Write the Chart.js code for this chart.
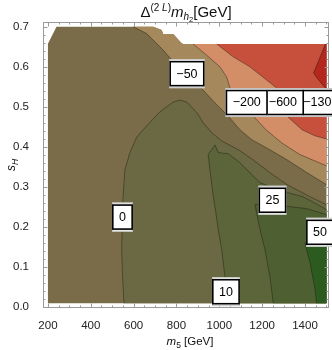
<!DOCTYPE html>
<html>
<head>
<meta charset="utf-8">
<script src="https://cdn.jsdelivr.net/npm/chart.js@4.4.0/dist/chart.umd.min.js"></script>
<style>
  html, body { margin: 0; padding: 0; background: #fff; }
</style>
</head>
<body>
<canvas id="chart" width="332" height="350"></canvas>
<script>
// axis ticks
const xTicks = [200, 400, 600, 800, 1000, 1200, 1400];
const yTicks = [0.0, 0.1, 0.2, 0.3, 0.4, 0.5, 0.6, 0.7];
const xMinorStep = 50;
const yMinorStep = 0.02;

// outline of the scanned region (m5, sH), outside is blank
const domainBottom = [[200, 0.01], [1500, 0.01]];
const domainTop = [[1500, 0.657], [832, 0.657], [824, 0.659], [785, 0.682], [738, 0.682],
  [731, 0.692], [692, 0.70], [240, 0.70], [200, 0.658]];

// contour lines
const contour50 = [[1454, 0.01], [1447, 0.045], [1423, 0.112], [1400, 0.159], [1415, 0.17], [1500, 0.18]];
const contour25 = [[1252, 0.01], [1236, 0.077], [1213, 0.144], [1190, 0.194], [1174, 0.236], [1166, 0.256],
  [1236, 0.261], [1314, 0.252], [1408, 0.246], [1500, 0.231]];
const contour10 = [[1040, 0.01], [1026, 0.077], [1011, 0.144], [995, 0.194], [984, 0.236], [972, 0.276],
  [964, 0.311], [956, 0.343], [948, 0.381], [980, 0.405], [995, 0.386], [1042, 0.383], [1096, 0.361],
  [1143, 0.336], [1190, 0.311], [1283, 0.291], [1390, 0.276], [1500, 0.244]];
const contour0 = [[555, 0.01], [549, 0.070], [544, 0.144], [550, 0.269], [559, 0.343], [583, 0.386],
  [615, 0.425], [653, 0.448], [723, 0.488], [784, 0.512], [816, 0.517], [849, 0.512], [896, 0.485],
  [928, 0.458], [966, 0.435], [1012, 0.415], [1096, 0.391], [1157, 0.368], [1236, 0.336], [1316, 0.306],
  [1423, 0.276], [1500, 0.256]];
const contourM50 = [[598, 0.70], [661, 0.683], [738, 0.642], [770, 0.622], [924, 0.542], [980, 0.510],
  [1040, 0.478], [1096, 0.443], [1152, 0.418], [1236, 0.393], [1316, 0.368], [1409, 0.336], [1500, 0.306]];
const contourM200 = [[878, 0.657], [941, 0.629], [1003, 0.600], [1034, 0.575], [1050, 0.547], [1162, 0.475],
  [1218, 0.443], [1292, 0.410], [1376, 0.381], [1500, 0.353]];
const contourM600 = [[988, 0.657], [1065, 0.625], [1143, 0.600], [1221, 0.567], [1268, 0.547], [1320, 0.475],
  [1386, 0.443], [1446, 0.428], [1500, 0.420]];
const contourM1300 = [[1495, 0.657], [1465, 0.617], [1440, 0.585], [1452, 0.575], [1490, 0.55], [1500, 0.545]];

// contour labels
const labelValues = [-1300, -600, -200, -50, 0, 10, 25, 50];
const labelX = [1474, 1297, 1128, 849, 548, 1031, 1248, 1470];
const labelY = [0.511, 0.511, 0.511, 0.583, 0.225, 0.0386, 0.267, 0.187];

const FONT = '"Liberation Sans", Arial, sans-serif';
Chart.defaults.font.family = FONT;

const toPts = arr => arr.map(p => ({x: p[0], y: p[1]}));
const closeBottom = c => c.concat([[1500, 0.01]]);
const closeTop = c => c.concat(domainTop.filter(p => p[0] > c[0][0]));

// painted from bottom to top
const bands = [
  {poly: domainBottom.concat(domainTop), color: '#7a6c48'},
  {poly: closeBottom(contour0), color: '#6a6943'},
  {poly: closeBottom(contour10), color: '#5c6439'},
  {poly: closeBottom(contour25), color: '#4e5f32'},
  {poly: closeBottom(contour50), color: '#2c5b1f'},
  {poly: closeTop(contourM50), color: '#a5895c'},
  {poly: closeTop(contourM200), color: '#d38e67'},
  {poly: closeTop(contourM600), color: '#c7503d'},
  {poly: closeTop(contourM1300), color: '#b3271e'}
];
const lines = [contour50, contour25, contour10, contour0, contourM50, contourM200, contourM600, contourM1300];

const datasets = [];
bands.forEach(b => datasets.push({
  data: toPts(b.poly), showLine: true, fill: 'shape', backgroundColor: b.color,
  borderWidth: 0, pointRadius: 0, tension: 0
}));
lines.forEach(l => datasets.push({
  data: toPts(l), showLine: true, fill: false, borderColor: 'rgba(25,25,15,0.55)',
  borderWidth: 0.8, pointRadius: 0, tension: 0
}));
datasets.forEach((d, i) => { d.order = datasets.length - i; });

function drawRuns(ctx, parts, x, y) {
  let w = 0;
  parts.forEach(p => { ctx.font = p[1]; w += ctx.measureText(p[0]).width; });
  let cx = x - w / 2;
  parts.forEach(p => {
    ctx.font = p[1];
    ctx.fillText(p[0], cx, y + p[2]);
    cx += ctx.measureText(p[0]).width;
  });
}

const decorations = {
  id: 'decorations',
  afterDraw(chart) {
    const ctx = chart.ctx;
    const xs = chart.scales.x, ys = chart.scales.y;
    const {left, right, top, bottom} = chart.chartArea;
    ctx.save();

    // frame with inward ticks
    ctx.strokeStyle = '#9a9a9a';
    ctx.lineWidth = 1;
    ctx.strokeRect(left + 0.5, top + 0.5, right - left - 1, bottom - top - 1);
    ctx.beginPath();
    for (let v = Math.ceil(xs.min / xMinorStep) * xMinorStep; v <= xs.max; v += xMinorStep) {
      const px = Math.round(xs.getPixelForValue(v)) + 0.5;
      const len = xTicks.includes(v) ? 4.5 : 2.5;
      ctx.moveTo(px, bottom); ctx.lineTo(px, bottom - len);
      ctx.moveTo(px, top); ctx.lineTo(px, top + len);
    }
    for (let k = Math.ceil(ys.min / yMinorStep); k * yMinorStep <= ys.max + 1e-9; k++) {
      const py = Math.round(ys.getPixelForValue(k * yMinorStep)) + 0.5;
      const len = k % 5 === 0 ? 4.5 : 2.5;
      ctx.moveTo(left, py); ctx.lineTo(left + len, py);
      ctx.moveTo(right, py); ctx.lineTo(right - len, py);
    }
    ctx.stroke();

    // contour labels
    ctx.textAlign = 'center';
    ctx.textBaseline = 'middle';
    labelValues.forEach((val, i) => {
      const txt = val < 0 ? '\u2212' + Math.abs(val) : String(val);
      ctx.font = '12.5px ' + FONT;
      const w = ctx.measureText(txt).width + 14, h = 29;
      const px = xs.getPixelForValue(labelX[i]), py = ys.getPixelForValue(labelY[i]);
      const x0 = px - w / 2, y0 = py - h / 2;
      ctx.fillStyle = '#fff';
      ctx.fillRect(x0, y0, w, h);
      ctx.strokeStyle = '#c4c4c4';
      ctx.lineWidth = 1;
      ctx.strokeRect(x0 + 0.5, y0 + 0.5, w - 1, h - 1);
      ctx.strokeStyle = '#000';
      ctx.lineWidth = 1.6;
      ctx.strokeRect(x0 + 0.8, y0 + 2.5, w - 1.6, h - 5);
      ctx.fillStyle = '#000';
      ctx.fillText(txt, px, py + 0.5);
    });

    // title and axis titles
    ctx.textAlign = 'left';
    ctx.textBaseline = 'alphabetic';
    ctx.fillStyle = '#111';
    drawRuns(ctx, [
      ['\u0394', '15px ' + FONT, 0],
      ['(2 ', '10px ' + FONT, -6],
      ['L', 'italic 10px ' + FONT, -6],
      [')', '10px ' + FONT, -6],
      ['m', 'italic 15px ' + FONT, 0],
      ['h', 'italic 10px ' + FONT, 3],
      ['2', '7.5px ' + FONT, 5],
      ['[GeV]', '15px ' + FONT, 0]
    ], (left + right) / 2, 17);
    drawRuns(ctx, [
      ['m', 'italic 11.5px ' + FONT, 0],
      ['5', '8.5px ' + FONT, 3],
      [' [GeV]', '11.5px ' + FONT, 0]
    ], 190, 345);
    ctx.translate(15, (top + bottom) / 2);
    ctx.rotate(-Math.PI / 2);
    drawRuns(ctx, [
      ['s', 'italic 12px ' + FONT, 0],
      ['H', 'italic 8.5px ' + FONT, 3]
    ], 0, 0);
    ctx.restore();
  }
};

new Chart(document.getElementById('chart'), {
  type: 'scatter',
  data: {datasets},
  options: {
    responsive: false,
    animation: false,
    events: [],
    devicePixelRatio: 1,
    layout: {padding: {top: 22, right: 3, left: 0, bottom: 0}},
    plugins: {legend: {display: false}, tooltip: {enabled: false}},
    scales: {
      x: {
        type: 'linear', min: 177, max: 1512,
        grid: {display: false}, border: {display: false},
        afterBuildTicks: s => { s.ticks = xTicks.map(v => ({value: v})); },
        afterFit: s => { s.height = 42; },
        ticks: {padding: 3, color: '#222', font: {size: 11.5}, maxRotation: 0, autoSkip: false,
          callback: v => String(v)}
      },
      y: {
        type: 'linear', min: -0.002, max: 0.712,
        grid: {display: false}, border: {display: false},
        afterBuildTicks: s => { s.ticks = yTicks.map(v => ({value: v})); },
        afterFit: s => { s.width = 43; },
        ticks: {padding: 6, color: '#222', font: {size: 11.5}, autoSkip: false,
          callback: v => v.toFixed(1)}
      }
    }
  },
  plugins: [decorations]
});
</script>
</body>
</html>
